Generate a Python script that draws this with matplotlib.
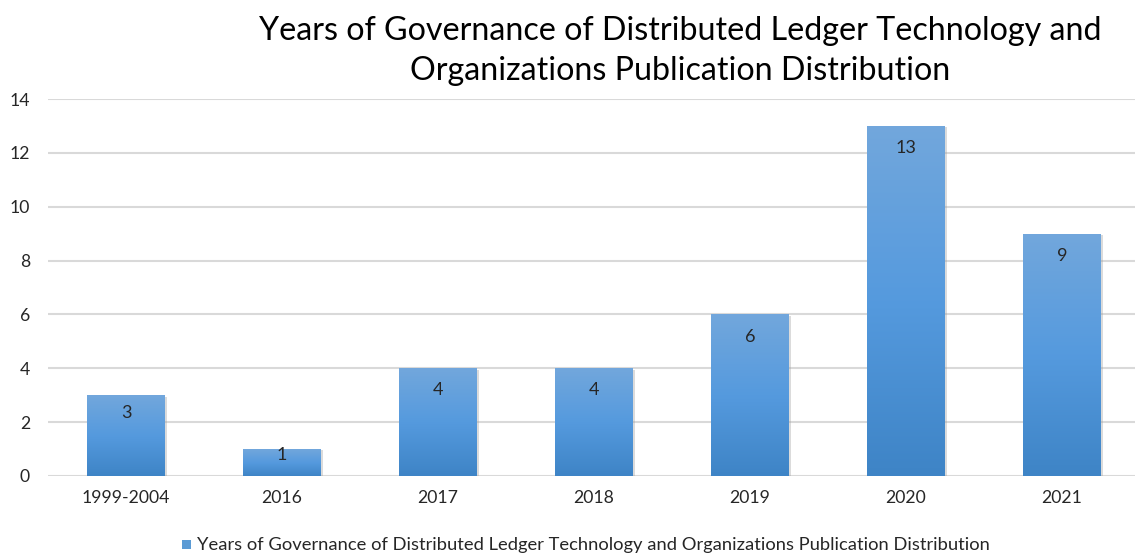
import matplotlib.pyplot as plt
import numpy as np
from matplotlib.colors import LinearSegmentedColormap
from matplotlib.patches import Rectangle

categories = ["1999-2004", "2016", "2017", "2018", "2019", "2020", "2021"]
counts = [3, 1, 4, 4, 6, 13, 9]
series_name = "Years of Governance of Distributed Ledger Technology and Organizations Publication Distribution"
title = "Years of Governance of Distributed Ledger Technology and\nOrganizations Publication Distribution"

plt.rcParams['font.family'] = ['Lato', 'DejaVu Sans']

W, H = 1135, 555
fig = plt.figure(figsize=(W / 100, H / 100), dpi=100)
ax = fig.add_axes([48 / W, 1 - 476 / H, (1140 - 48) / W, (476 - 99) / H])

x = np.arange(len(categories))
bars = ax.bar(x, counts, width=0.5, color="#5b9bd5", zorder=2)

# vertical gradient inside each bar
grad = LinearSegmentedColormap.from_list("g", ["#3e84c6", "#559ade", "#72a7dc"])
ax.set_xlim(-0.5, len(categories) - 0.5)
ax.set_ylim(0, 14)
for b in bars:
    bx, by = b.get_x(), b.get_y()
    bw, bh = b.get_width(), b.get_height()
    b.set_facecolor("none")
    b.set_edgecolor("none")
    shadow = Rectangle((bx + 0.012, by), bw, bh - 0.05, facecolor="#9a9a9a",
                       alpha=0.35, edgecolor="none", zorder=1.5)
    ax.add_patch(shadow)
    img = ax.imshow(np.linspace(0, 1, 256).reshape(-1, 1), cmap=grad, origin="lower",
                    extent=[bx, bx + bw, by, by + bh], aspect="auto", zorder=2)
    img.set_clip_path(b)

for xi, v in zip(x, counts):
    ax.text(xi, max(v - 0.82, v * 0.78), str(v), ha="center", va="center",
            fontsize=13, color="#262626", zorder=3)

ax.set_yticks(range(0, 15, 2))
ax.yaxis.grid(True, color="#d9d9d9", linewidth=1.5, zorder=0)
ax.set_axisbelow(True)
for s in ax.spines.values():
    s.set_visible(False)
ax.tick_params(length=0, labelsize=12.7, colors="#262626")
ax.tick_params(axis="y", pad=13)
ax.tick_params(axis="x", pad=10)
ax.set_xticks(x)
ax.set_xticklabels(categories)

fig.text(680 / W, 1 - 51 / H, title, ha="center", va="center", fontsize=23.2,
         color="#000000", linespacing=1.42)

# legend
fig.patches.append(Rectangle((182 / W, 1 - 549 / H), 9 / W, 9 / H, transform=fig.transFigure,
                             facecolor="#5b9bd5", edgecolor="none"))
fig.text(197 / W, 1 - 545 / H, series_name, ha="left", va="center", fontsize=13.2, color="#262626")

fig.savefig("out.png", dpi=100)
